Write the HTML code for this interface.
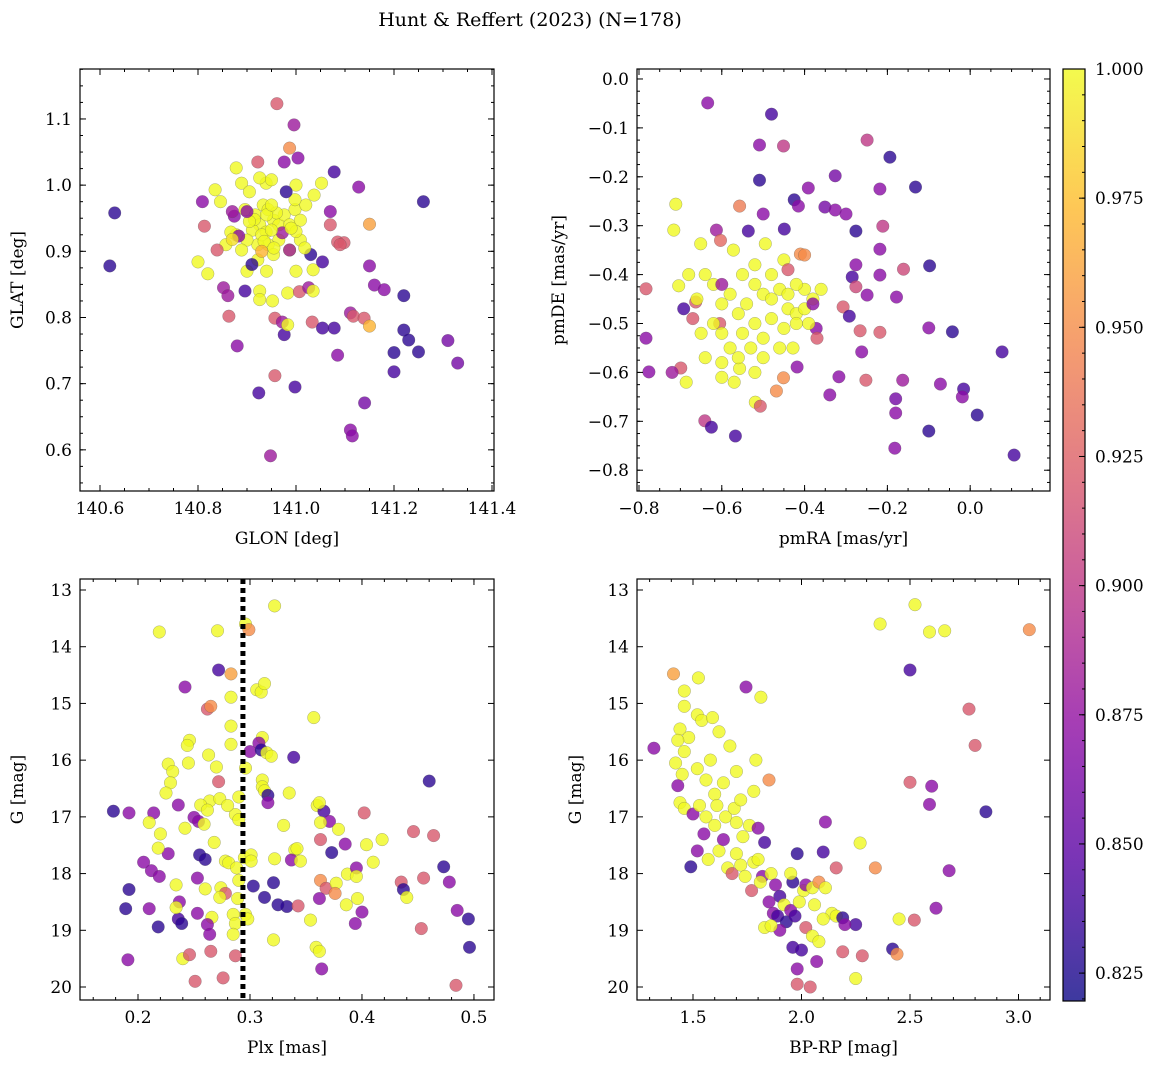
<!DOCTYPE html>
<html><head><meta charset="utf-8"><style>
html,body{margin:0;padding:0;background:#fff;}
svg{display:block;font-family:"DejaVu Serif","Liberation Serif",serif;}
</style></head><body>
<svg id="fig" width="1160" height="1068" viewBox="0 0 1160 1068" xmlns="http://www.w3.org/2000/svg">
<text x="530" y="26" font-size="19" text-anchor="middle">Hunt &amp; Reffert (2023) (N=178)</text>
</svg>
<script>
// Panel 1: GLON vs GLAT
const glon1=[140.63,140.62,140.961,140.996,140.987,140.922,141.004,140.976,141.078,141.26,140.878,140.835,140.809,140.846,140.889,140.939,140.926,140.950,140.896,140.917,140.933,140.943,140.954,140.965,140.926,140.911,140.939,140.976,140.987,140.998,141.009,140.965,140.943,140.922,140.900,140.878,140.867,140.857,140.889,140.922,140.954,140.987,141.009,141.020,140.998,141.037,141.052,140.813,140.839,140.874,140.883,140.80,140.82,140.972,140.987,141.030,141.035,141.054,141.085,141.098,141.15,141.128,141.070,141.070,141.15,141.16,141.18,141.22,141.22,141.23,141.20,141.20,141.25,141.31,141.33,140.852,140.861,140.863,140.880,140.896,140.926,140.926,140.952,140.957,140.972,140.976,140.983,140.998,140.957,140.924,140.948,140.983,141.007,141.026,141.035,141.033,141.054,141.078,141.085,141.111,141.117,141.139,141.15,141.14,141.111,141.115,140.930,140.950,140.915,140.905,140.960,140.940,140.935,140.955,140.870,140.900,141.000,141.018,140.905,140.990,140.90,140.95,140.91,140.94,140.93,141.00,141.00,140.98,141.09,140.87];
const glat1=[0.958,0.878,1.123,1.091,1.056,1.035,1.041,1.035,1.020,0.975,1.026,0.993,0.975,0.975,1.003,1.003,1.011,1.008,0.963,0.955,0.970,0.963,0.947,0.940,0.940,0.932,0.929,0.955,0.940,0.963,0.947,0.917,0.910,0.910,0.917,0.925,0.929,0.910,0.902,0.887,0.895,0.902,0.917,0.970,0.978,0.985,1.003,0.938,0.902,0.953,0.923,0.884,0.866,0.928,0.902,0.895,0.872,0.884,0.914,0.913,0.941,0.997,0.960,0.940,0.878,0.849,0.842,0.833,0.781,0.766,0.747,0.718,0.748,0.765,0.731,0.845,0.833,0.802,0.757,0.840,0.840,0.827,0.825,0.799,0.793,0.774,0.789,0.695,0.712,0.686,0.591,0.837,0.839,0.845,0.840,0.793,0.784,0.784,0.743,0.807,0.802,0.799,0.787,0.671,0.630,0.621,0.925,0.932,0.948,0.945,0.958,0.955,0.915,0.905,0.918,0.870,0.930,0.905,0.990,0.935,0.96,0.97,0.88,0.87,0.90,0.87,1.00,0.99,0.91,0.96];
const prob1=[0.83,0.83,0.92,0.88,0.95,0.92,0.87,0.87,0.84,0.83,1.00,1.00,0.87,1.00,1.00,1.00,1.00,1.00,1.00,1.00,1.00,1.00,1.00,1.00,1.00,1.00,1.00,1.00,1.00,1.00,1.00,1.00,1.00,1.00,1.00,1.00,1.00,1.00,1.00,1.00,1.00,1.00,1.00,1.00,1.00,1.00,1.00,0.92,0.92,0.87,0.87,1.00,1.00,0.88,0.88,0.83,1.00,0.84,0.92,0.92,0.96,0.87,0.87,0.92,0.87,0.87,0.87,0.83,0.83,0.83,0.83,0.84,0.83,0.86,0.86,0.88,0.88,0.92,0.87,0.84,1.00,1.00,1.00,0.92,0.88,0.84,1.00,0.84,0.92,0.84,0.88,1.00,0.92,0.88,1.00,0.92,0.84,0.84,0.87,0.88,0.92,0.92,0.97,0.86,0.87,0.87,1.00,1.00,1.00,1.00,1.00,1.00,1.00,1.00,0.99,1.00,1.00,1.00,1.00,1.00,0.87,1.00,0.83,1.00,0.97,1.00,1.00,0.83,0.92,0.88];

// Panel 2: pmRA vs pmDE
const pmra2=[-0.634,-0.480,-0.451,-0.509,-0.249,-0.194,-0.326,-0.391,-0.509,-0.218,-0.132,-0.425,-0.415,-0.351,-0.326,-0.300,-0.500,-0.557,-0.711,-0.211,-0.276,-0.536,-0.449,-0.613,-0.716,-0.651,-0.603,-0.572,-0.495,-0.218,-0.276,-0.218,-0.161,-0.098,-0.285,-0.276,-0.249,-0.178,-0.663,-0.704,-0.692,-0.783,-0.410,-0.307,-0.292,-0.372,-0.266,-0.262,-0.218,-0.100,-0.043,0.077,-0.783,-0.670,-0.605,-0.699,-0.720,-0.776,-0.686,-0.600,-0.557,-0.519,-0.418,-0.428,-0.451,-0.468,-0.507,-0.317,-0.252,-0.339,-0.163,-0.180,-0.072,-0.016,-0.019,0.017,-0.180,-0.641,-0.625,-0.567,-0.182,-0.100,0.106,-0.52,-0.50,-0.48,-0.46,-0.44,-0.42,-0.40,-0.38,-0.54,-0.56,-0.58,-0.60,-0.62,-0.64,-0.60,-0.58,-0.55,-0.52,-0.50,-0.48,-0.45,-0.42,-0.40,-0.36,-0.55,-0.52,-0.48,-0.45,-0.42,-0.62,-0.65,-0.64,-0.60,-0.56,-0.53,-0.50,-0.46,-0.66,-0.68,-0.57,-0.52,-0.39,-0.44,-0.40,-0.44,-0.60,-0.37,-0.38];
const pmde2=[-0.049,-0.072,-0.137,-0.135,-0.125,-0.160,-0.198,-0.223,-0.207,-0.225,-0.221,-0.247,-0.260,-0.262,-0.268,-0.276,-0.276,-0.260,-0.256,-0.301,-0.311,-0.311,-0.307,-0.309,-0.309,-0.337,-0.330,-0.350,-0.337,-0.348,-0.380,-0.401,-0.389,-0.382,-0.405,-0.425,-0.442,-0.446,-0.456,-0.423,-0.470,-0.429,-0.358,-0.466,-0.485,-0.510,-0.515,-0.558,-0.518,-0.509,-0.517,-0.558,-0.530,-0.490,-0.500,-0.591,-0.600,-0.599,-0.620,-0.580,-0.592,-0.661,-0.589,-0.550,-0.611,-0.638,-0.669,-0.609,-0.616,-0.646,-0.616,-0.654,-0.624,-0.634,-0.650,-0.687,-0.683,-0.699,-0.712,-0.730,-0.755,-0.720,-0.769,-0.42,-0.44,-0.45,-0.43,-0.47,-0.48,-0.43,-0.45,-0.46,-0.48,-0.44,-0.46,-0.42,-0.40,-0.52,-0.55,-0.52,-0.50,-0.53,-0.49,-0.51,-0.50,-0.47,-0.43,-0.40,-0.38,-0.40,-0.37,-0.42,-0.50,-0.52,-0.57,-0.61,-0.57,-0.55,-0.57,-0.55,-0.45,-0.40,-0.62,-0.60,-0.50,-0.44,-0.36,-0.39,-0.42,-0.53,-0.46];
const prob2=[0.87,0.84,0.90,0.87,0.90,0.83,0.86,0.87,0.83,0.87,0.83,0.83,0.87,0.86,0.87,0.87,0.87,0.94,1.00,0.90,0.83,0.84,0.84,0.88,1.00,1.00,0.93,1.00,1.00,0.87,0.87,0.87,0.91,0.83,0.84,0.91,0.87,0.87,0.92,1.00,0.84,0.92,0.95,0.92,0.84,0.87,0.92,0.87,0.92,0.87,0.83,0.84,0.87,0.92,0.92,0.92,0.88,0.87,1.00,1.00,1.00,1.00,0.87,1.00,0.95,0.95,0.92,0.87,0.92,0.87,0.88,0.86,0.87,0.84,0.87,0.83,0.87,0.90,0.84,0.84,0.87,0.83,0.84,1.00,1.00,1.00,1.00,1.00,1.00,1.00,1.00,1.00,1.00,1.00,1.00,1.00,1.00,1.00,1.00,1.00,1.00,1.00,1.00,1.00,1.00,1.00,1.00,1.00,1.00,1.00,1.00,1.00,1.00,1.00,1.00,1.00,1.00,1.00,1.00,1.00,1.00,1.00,1.00,1.00,1.00,1.00,0.95,0.92,0.88,0.92,0.87];

// Panel 3: Plx vs G
const plx3=[0.322,0.219,0.271,0.296,0.299,0.272,0.283,0.242,0.283,0.306,0.310,0.313,0.262,0.265,0.357,0.283,0.283,0.311,0.246,0.244,0.300,0.308,0.310,0.263,0.315,0.319,0.339,0.227,0.231,0.245,0.270,0.296,0.311,0.272,0.229,0.225,0.311,0.313,0.316,0.335,0.460,0.236,0.264,0.273,0.290,0.256,0.262,0.250,0.254,0.259,0.287,0.290,0.360,0.366,0.362,0.371,0.316,0.178,0.192,0.214,0.220,0.242,0.446,0.464,0.402,0.363,0.363,0.379,0.385,0.340,0.404,0.418,0.205,0.227,0.218,0.255,0.260,0.278,0.281,0.288,0.295,0.301,0.301,0.322,0.337,0.345,0.373,0.342,0.212,0.219,0.234,0.253,0.260,0.274,0.290,0.303,0.321,0.363,0.368,0.377,0.387,0.395,0.395,0.410,0.473,0.478,0.435,0.437,0.455,0.440,0.192,0.237,0.278,0.273,0.289,0.313,0.333,0.362,0.376,0.396,0.386,0.189,0.210,0.236,0.239,0.234,0.253,0.266,0.285,0.296,0.287,0.298,0.325,0.343,0.354,0.400,0.394,0.485,0.218,0.262,0.264,0.285,0.453,0.495,0.321,0.496,0.191,0.240,0.246,0.265,0.287,0.359,0.362,0.364,0.251,0.276,0.484,0.210,0.330,0.280,0.268];
const gmag3=[13.28,13.74,13.72,13.60,13.70,14.41,14.48,14.71,14.89,14.76,14.80,14.65,15.10,15.05,15.25,15.40,15.72,15.60,15.65,15.74,15.85,15.70,15.82,15.91,15.87,15.93,15.95,16.07,16.20,16.05,16.12,16.14,16.35,16.38,16.40,16.58,16.47,16.54,16.62,16.58,16.37,16.79,16.72,16.68,16.65,16.79,16.88,17.01,17.08,17.13,16.96,17.05,16.80,16.90,16.75,17.08,16.75,16.90,16.93,16.93,17.30,17.20,17.26,17.33,16.93,17.10,17.40,17.22,17.48,17.58,17.49,17.40,17.80,17.65,17.55,17.67,17.75,17.78,17.81,17.90,17.72,17.67,17.78,17.74,17.76,17.78,17.63,17.56,17.95,18.05,18.20,18.08,18.27,18.25,18.12,18.22,18.16,18.12,18.26,18.17,18.01,17.90,18.05,17.80,17.88,18.15,18.15,18.28,18.08,18.42,18.28,18.50,18.35,18.42,18.44,18.42,18.58,18.44,18.35,18.44,18.55,18.62,18.62,18.80,18.88,18.60,18.70,18.77,18.72,18.72,18.88,18.80,18.55,18.57,18.82,18.68,18.88,18.65,18.94,18.90,19.07,19.07,18.97,18.80,19.17,19.30,19.52,19.50,19.43,19.37,19.45,19.30,19.37,19.68,19.90,19.84,19.97,17.10,17.15,16.80,17.45];
const prob3=[1.00,1.00,1.00,1.00,0.95,0.84,0.96,0.87,1.00,1.00,1.00,1.00,0.92,0.95,1.00,1.00,1.00,1.00,1.00,1.00,0.87,0.87,0.83,1.00,1.00,1.00,0.84,1.00,1.00,1.00,1.00,1.00,1.00,0.92,1.00,1.00,1.00,1.00,0.83,1.00,0.83,0.87,1.00,1.00,1.00,1.00,1.00,0.87,0.87,1.00,1.00,1.00,1.00,0.84,1.00,0.87,0.87,0.83,0.87,0.87,1.00,1.00,0.92,0.92,0.92,1.00,0.92,1.00,0.87,1.00,1.00,1.00,0.87,0.87,1.00,0.83,0.83,1.00,1.00,1.00,1.00,1.00,1.00,1.00,0.87,1.00,0.83,1.00,0.87,0.87,1.00,0.87,1.00,1.00,1.00,0.83,0.83,0.95,0.92,1.00,1.00,0.87,1.00,1.00,0.83,0.87,0.92,0.83,0.92,1.00,0.83,0.87,0.92,1.00,1.00,0.83,0.83,0.87,0.95,1.00,1.00,0.83,0.87,0.84,0.83,1.00,0.87,1.00,1.00,1.00,1.00,1.00,0.83,0.92,1.00,0.87,0.87,0.87,0.83,0.87,0.87,1.00,0.92,0.83,1.00,0.83,0.87,1.00,0.92,0.92,0.92,1.00,1.00,0.87,0.92,0.92,0.92,1.00,1.00,1.00,1.00];

// Panel 4: BP-RP vs G
const bprp4=[2.523,2.362,2.590,2.660,3.050,1.410,1.525,1.460,1.744,1.813,2.500,2.772,1.320,2.800,2.600,2.500,2.590,2.850,2.680,2.620,2.520,2.450,2.270,2.340,2.160,2.110,2.100,2.420,2.440,2.280,2.190,2.250,1.980,1.980,2.040,2.070,1.960,1.460,1.520,1.540,1.440,1.480,1.430,1.460,1.590,1.620,1.670,1.420,1.450,1.430,1.520,1.580,1.560,1.600,1.640,1.700,1.790,1.440,1.460,1.500,1.530,1.560,1.600,1.650,1.690,1.720,1.780,1.850,1.550,1.520,1.490,1.570,1.620,1.640,1.660,1.700,1.730,1.760,1.800,1.830,1.680,1.720,1.740,1.780,1.800,1.820,1.860,1.880,1.770,1.810,1.900,1.920,1.850,1.870,1.830,1.890,1.930,1.950,1.970,1.990,2.010,1.960,2.020,1.980,2.050,2.080,2.110,2.140,2.100,2.060,2.020,2.050,2.080,2.000,2.160,2.190,2.250,2.200,1.900,1.860,1.950,1.700,1.610];
const gmag4=[13.26,13.60,13.74,13.72,13.70,14.48,14.55,14.78,14.71,14.89,14.41,15.10,15.79,15.74,16.46,16.39,16.78,16.91,17.95,18.61,18.82,18.80,17.46,17.90,17.90,17.09,17.62,19.33,19.42,19.45,19.38,19.85,19.68,19.95,20.00,19.55,19.30,15.05,15.20,15.30,15.45,15.60,15.65,15.85,15.25,15.50,15.75,16.05,16.25,16.45,16.15,16.00,16.35,16.60,16.40,16.20,16.00,16.75,16.85,16.95,16.80,17.00,17.15,17.00,16.85,16.70,16.55,16.35,17.30,17.60,17.88,17.75,17.60,17.40,17.90,17.65,17.35,17.15,17.20,17.45,18.00,17.85,18.05,17.80,17.75,18.05,18.00,18.20,18.30,18.15,18.40,18.55,18.50,18.70,18.95,18.75,18.85,18.65,18.75,18.50,18.30,18.15,18.20,17.65,18.25,18.15,18.25,18.70,18.80,18.55,18.95,19.10,19.20,19.35,18.75,18.78,18.90,18.90,19.00,18.92,18.00,17.10,16.80];
const prob4=[1.00,1.00,1.00,1.00,0.95,0.96,1.00,1.00,0.87,1.00,0.84,0.92,0.87,0.92,0.87,0.92,0.87,0.83,0.87,0.87,0.92,1.00,1.00,0.95,0.92,0.87,0.84,0.83,0.95,0.92,0.92,1.00,0.87,0.92,0.92,0.87,0.84,1.00,1.00,1.00,1.00,1.00,1.00,1.00,1.00,1.00,1.00,1.00,1.00,0.87,1.00,1.00,1.00,1.00,1.00,1.00,1.00,1.00,1.00,0.87,1.00,1.00,1.00,1.00,1.00,1.00,1.00,0.95,0.87,0.87,0.83,1.00,1.00,0.87,1.00,1.00,1.00,1.00,0.87,0.84,0.92,1.00,1.00,1.00,1.00,0.87,1.00,0.87,0.92,1.00,0.84,1.00,0.87,0.87,1.00,0.84,0.83,0.87,0.84,1.00,1.00,0.83,0.87,0.83,1.00,0.95,1.00,1.00,1.00,1.00,0.92,1.00,1.00,0.84,1.00,0.83,0.84,0.87,0.87,1.00,1.00,1.00,1.00];

const cbTicks=[0.825,0.850,0.875,0.900,0.925,0.950,0.975,1.000];
const plxLine=0.2937;

const NS='http://www.w3.org/2000/svg';
const svg=document.getElementById('fig');
const VMIN=0.8196, VMAX=1.0;
const stops=[[13,8,135],[84,2,163],[139,10,165],[185,50,137],[219,92,104],[244,136,73],[254,188,43],[240,249,33]];
function plasma(t){t=Math.max(0,Math.min(1,t));const s=t*(stops.length-1);const i=Math.min(stops.length-2,Math.floor(s));const f=s-i;const a=stops[i],b=stops[i+1];return 'rgb('+[0,1,2].map(k=>Math.round(a[k]+(b[k]-a[k])*f)).join(',')+')';}
function mk(tag,attrs,parent){const e=document.createElementNS(NS,tag);for(const k in attrs)e.setAttribute(k,attrs[k]);(parent||svg).appendChild(e);return e;}

function panel(cfg){
  const g=mk('g',{});
  
  
  const {L,R,T,B,x0,x1,y0,y1}=cfg;
  const sx=v=>L+(v-x0)/(x1-x0)*(R-L);
  const sy=v=>B-(v-y0)/(y1-y0)*(B-T);
  const clipId='clip_'+cfg.name;
  const cp=mk('clipPath',{id:clipId},g);mk('rect',{x:L,y:T,width:R-L,height:B-T},cp);
  const pts=mk('g',{'clip-path':'url(#'+clipId+')'},g);
  
  
  for(let i=0;i<cfg.xs.length;i++){
    const c=mk('circle',{cx:sx(cfg.xs[i]).toFixed(1),cy:sy(cfg.ys[i]).toFixed(1),r:6.3,fill:plasma((cfg.cs[i]-VMIN)/(VMAX-VMIN)),'fill-opacity':0.8,stroke:'#555','stroke-opacity':0.6,'stroke-width':0.4},pts);
    
    
  }
  if(cfg.vline!==undefined){
    const l=mk('line',{x1:sx(cfg.vline),x2:sx(cfg.vline),y1:T,y2:B,stroke:'#000','stroke-width':5,'stroke-dasharray':'5 4'},pts);
    
    
  }
  mk('rect',{x:L,y:T,width:R-L,height:B-T,fill:'none',stroke:'#000','stroke-width':1.2},g);
  const ticks=mk('g',{stroke:'#000','stroke-width':1},g);
  
  
  const eps=1e-9;
  for(let v=Math.ceil(x0/cfg.xmin-eps)*cfg.xmin;v<=x1+eps;v+=cfg.xmin){const X=sx(v);mk('line',{x1:X,x2:X,y1:B,y2:B-3},ticks);mk('line',{x1:X,x2:X,y1:T,y2:T+3},ticks);}
  for(let v=Math.ceil(y0/cfg.ymin-eps)*cfg.ymin;v<=y1+eps;v+=cfg.ymin){const Y=sy(v);mk('line',{x1:L,x2:L+3,y1:Y,y2:Y},ticks);mk('line',{x1:R,x2:R-3,y1:Y,y2:Y},ticks);}
  cfg.xt.forEach(v=>{const X=sx(v);mk('line',{x1:X,x2:X,y1:B,y2:B-6},ticks);mk('line',{x1:X,x2:X,y1:T,y2:T+6},ticks);
    const t=mk('text',{x:X,y:B+23,'font-size':17,'text-anchor':'middle'},g);t.textContent=cfg.xf(v);
    });
  cfg.yt.forEach(v=>{const Y=sy(v);mk('line',{x1:L,x2:L+6,y1:Y,y2:Y},ticks);mk('line',{x1:R,x2:R-6,y1:Y,y2:Y},ticks);
    const t=mk('text',{x:L-8,y:Y+6,'font-size':17,'text-anchor':'end'},g);t.textContent=cfg.yf(v);
    });
  const xl=mk('text',{x:(L+R)/2,y:B+53,'font-size':17,'text-anchor':'middle'},g);xl.textContent=cfg.xlabel;
  
  const yx=cfg.ylx, yy=(T+B)/2;
  const yl=mk('text',{x:yx,y:yy,'font-size':17,'text-anchor':'middle',transform:'rotate(-90 '+yx+' '+yy+')'},g);yl.textContent=cfg.ylabel;
  
}
const minus=s=>s.replace('-','\u2212');
const rng=(a,b,s)=>{const r=[];for(let v=a;v<=b+1e-9;v+=s)r.push(+v.toFixed(6));return r;};

panel({name:'glon-glat-panel',L:80,R:494,T:69,B:491,x0:140.5592,x1:141.4041,y0:0.5378,y1:1.1755,xs:glon1,ys:glat1,cs:prob1,
  xt:rng(140.6,141.4,0.2),yt:rng(0.6,1.1,0.1),xmin:0.05,ymin:0.025,xf:v=>v.toFixed(1),yf:v=>v.toFixed(1),xlabel:'GLON [deg]',ylabel:'GLAT [deg]',ylx:23});
panel({name:'proper-motion-panel',L:637,R:1050,T:69,B:491,x0:-0.8048,x1:0.1928,y0:-0.8425,y1:0.0204,xs:pmra2,ys:pmde2,cs:prob2,
  xt:rng(-0.8,0.0,0.2),yt:rng(-0.8,0.0,0.1),xmin:0.05,ymin:0.025,xf:v=>minus(v.toFixed(1)),yf:v=>minus(v.toFixed(1)),xlabel:'pmRA [mas/yr]',ylabel:'pmDE [mas/yr]',ylx:564});
panel({name:'parallax-magnitude-panel',L:80,R:494,T:579,B:1000,x0:0.1482,x1:0.5179,y0:20.229,y1:12.806,xs:plx3,ys:gmag3,cs:prob3,vline:plxLine,
  xt:rng(0.2,0.5,0.1),yt:rng(13,20,1),xmin:0.02,ymin:0.25,xf:v=>v.toFixed(1),yf:v=>String(Math.round(v)),xlabel:'Plx [mas]',ylabel:'G [mag]',ylx:23});
panel({name:'color-magnitude-panel',L:637,R:1050,T:579,B:1000,x0:1.2419,x1:3.1452,y0:20.229,y1:12.806,xs:bprp4,ys:gmag4,cs:prob4,
  xt:rng(1.5,3.0,0.5),yt:rng(13,20,1),xmin:0.1,ymin:0.25,xf:v=>v.toFixed(1),yf:v=>String(Math.round(v)),xlabel:'BP-RP [mag]',ylabel:'G [mag]',ylx:581});

// colorbar
(function(){
  const L=1063,R=1085,T=69,B=1001;
  const g=mk('g',{});
  
  
  const defs=mk('defs',{},g);
  const lg=mk('linearGradient',{id:'cbgrad',x1:0,y1:1,x2:0,y2:0},defs);
  for(let i=0;i<=20;i++){mk('stop',{offset:(i/20),'stop-color':plasma(i/20)},lg);}
  mk('rect',{x:L,y:T,width:R-L,height:B-T,fill:'url(#cbgrad)','fill-opacity':0.8},g);
  mk('rect',{x:L,y:T,width:R-L,height:B-T,fill:'none',stroke:'#000','stroke-width':1.2},g);
  const sy=v=>B-(v-VMIN)/(VMAX-VMIN)*(B-T);
  for(let v=0.82;v<=1.0001;v+=0.005){mk('line',{x1:R,x2:R-3,y1:sy(v),y2:sy(v),stroke:'#000'},g);}
  cbTicks.forEach(v=>{const Y=sy(v);mk('line',{x1:R,x2:R-6,y1:Y,y2:Y,stroke:'#000'},g);
    const t=mk('text',{x:R+10,y:Y+6,'font-size':17},g);t.textContent=v.toFixed(3);
    });
})();
</script>
</body></html>
